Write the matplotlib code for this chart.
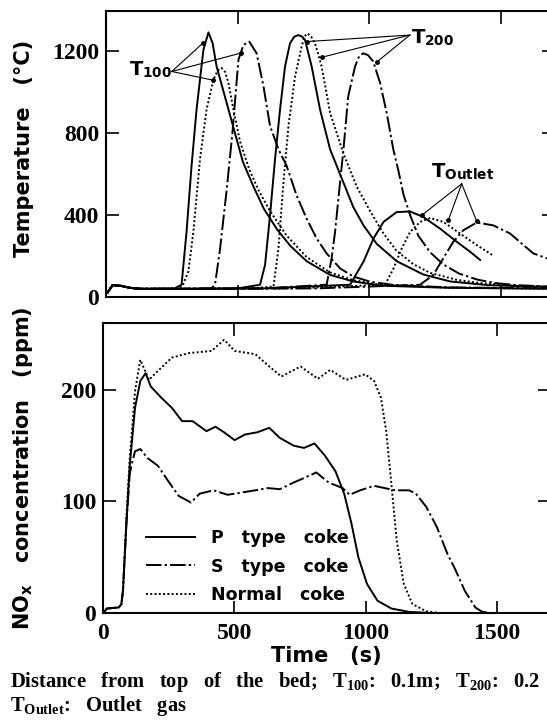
import matplotlib
matplotlib.use("Agg")
import matplotlib.pyplot as plt

plt.rcParams['font.family'] = ['Liberation Serif', 'DejaVu Serif']
plt.rcParams['font.weight'] = 'bold'
plt.rcParams['mathtext.fontset'] = 'custom'
plt.rcParams['mathtext.rm'] = 'Liberation Serif:bold'
plt.rcParams['mathtext.bf'] = 'Liberation Serif:bold'
plt.rcParams['mathtext.it'] = 'Liberation Serif:bold'
plt.rcParams['mathtext.sf'] = 'DejaVu Sans:bold'

# ---- temperature profiles (time s, temperature degC) ----
start_t = [5, 25, 55, 90, 130]
start_T = [20, 58, 55, 45, 40]

p_t100_t = start_t + [200, 260, 287, 306, 325, 344, 370, 389, 405, 420, 458, 490, 520, 560, 600, 650, 700, 762, 851, 939, 1050, 1300, 1700]
p_t100_T = start_T + [40, 42, 60, 320, 642, 917, 1208, 1293, 1240, 1127, 950, 800, 660, 540, 430, 330, 250, 175, 108, 76, 55, 45, 40]

n_t100_t = start_t + [200, 270, 291, 313, 332, 357, 382, 408, 425, 439, 452, 465, 484, 509, 545, 580, 623, 686, 762, 851, 939, 1050, 1300, 1700]
n_t100_T = start_T + [40, 42, 55, 126, 320, 674, 917, 1062, 1108, 1119, 1100, 1046, 917, 760, 620, 520, 420, 300, 195, 120, 82, 58, 46, 40]

s_t100_t = start_t + [200, 300, 400, 414, 433, 458, 480, 503, 522, 544, 572, 598, 623, 655, 686, 724, 762, 800, 838, 889, 939, 1003, 1091, 1300, 1700]
s_t100_T = start_T + [40, 40, 42, 60, 233, 520, 800, 1159, 1232, 1248, 1191, 1030, 836, 722, 641, 496, 383, 286, 213, 140, 100, 75, 59, 47, 42]

p_t200_t = start_t + [300, 500, 585, 604, 623, 642, 661, 680, 699, 715, 731, 745, 756, 781, 813, 851, 889, 939, 978, 1028, 1104, 1205, 1307, 1450, 1700]
p_t200_T = start_T + [40, 42, 60, 156, 399, 674, 916, 1127, 1240, 1272, 1280, 1272, 1256, 1127, 916, 722, 600, 440, 350, 260, 175, 110, 76, 58, 48]

n_t200_t = start_t + [300, 550, 636, 655, 674, 693, 718, 743, 755, 765, 778, 794, 819, 851, 902, 952, 1003, 1054, 1104, 1168, 1231, 1332, 1421, 1550, 1700]
n_t200_T = start_T + [40, 42, 51, 237, 561, 836, 1078, 1224, 1275, 1288, 1275, 1240, 1127, 900, 700, 540, 420, 310, 225, 160, 118, 84, 68, 55, 50]

s_t200_t = start_t + [300, 600, 838, 857, 870, 889, 902, 920, 946, 962, 977, 995, 1015, 1041, 1066, 1091, 1110, 1130, 1155, 1186, 1230, 1280, 1340, 1410, 1480, 1560, 1700]
s_t200_T = start_T + [40, 42, 60, 190, 318, 561, 723, 981, 1127, 1178, 1191, 1182, 1151, 1046, 900, 723, 620, 500, 400, 300, 220, 160, 115, 85, 68, 58, 50]

p_out_t = start_t + [300, 600, 927, 978, 1016, 1054, 1104, 1155, 1205, 1269, 1332, 1383, 1421]
p_out_T = start_T + [40, 42, 60, 173, 286, 367, 415, 418, 391, 334, 270, 221, 181]

n_out_t = start_t + [300, 700, 1060, 1092, 1123, 1155, 1193, 1231, 1281, 1345, 1408, 1471]
n_out_T = start_T + [40, 42, 60, 140, 237, 318, 367, 386, 367, 310, 254, 202]

s_out_t = start_t + [300, 800, 1193, 1243, 1281, 1319, 1357, 1408, 1471, 1535, 1580, 1623, 1675, 1700]
s_out_T = start_T + [40, 42, 60, 108, 189, 270, 326, 364, 350, 310, 260, 213, 189, 180]

# ---- NOx concentration (time s, ppm) ----
p_nox_t = [0, 15, 60, 70, 76, 89, 102, 122, 142, 162, 182, 222, 262, 301, 341, 394, 428, 461, 501, 540, 587, 633, 673, 726, 765, 805, 845, 885, 918, 946, 972, 1005, 1045, 1098, 1165, 1250, 1700]
p_nox_v = [0, 4, 5, 8, 20, 80, 133, 184, 208, 215, 203, 193, 184, 172, 172, 163, 167, 162, 155, 160, 162, 166, 157, 150, 148, 152, 141, 127, 107, 80, 50, 26, 11, 4, 1, 0, 0]

s_nox_t = [0, 15, 60, 70, 76, 89, 102, 109, 122, 142, 169, 209, 249, 288, 335, 368, 421, 474, 527, 580, 627, 673, 726, 765, 812, 859, 912, 939, 979, 1032, 1072, 1112, 1165, 1191, 1231, 1271, 1311, 1337, 1377, 1417, 1444, 1480, 1700]
s_nox_v = [0, 4, 5, 8, 20, 80, 125, 133, 145, 147, 139, 132, 118, 105, 99, 107, 110, 106, 108, 110, 112, 111, 117, 121, 126, 117, 112, 106, 110, 114, 112, 110, 110, 107, 95, 77, 53, 41, 20, 5, 1, 0, 0]

n_nox_t = [0, 15, 60, 70, 76, 89, 102, 122, 142, 175, 209, 262, 328, 414, 461, 501, 580, 633, 679, 752, 818, 865, 925, 998, 1032, 1058, 1078, 1098, 1118, 1145, 1178, 1231, 1280, 1700]
n_nox_v = [0, 4, 5, 8, 20, 85, 139, 199, 227, 209, 217, 229, 233, 235, 245, 235, 232, 221, 212, 221, 210, 218, 209, 214, 208, 193, 163, 115, 65, 26, 8, 1.5, 0, 0]

legend_labels = ['P   type   coke', 'S   type   coke', 'Normal   coke']

temp_ticks = [0, 400, 800, 1200]
nox_ticks = [0, 100, 200]
time_ticks = [0, 500, 1000, 1500]

solid = '-'
dashdot = (0, (8, 1.6, 1.2, 1.6))
dotted = (0, (1, 1.2))
lw = 1.4

W, H = 547, 722
fig = plt.figure(figsize=(W / 100, H / 100), dpi=100)

ax1 = fig.add_axes([106 / W, (H - 297) / H, 447.6 / W, 286.5 / H])
ax2 = fig.add_axes([103 / W, (H - 613) / H, 446.6 / W, 290 / H])

sans = dict(family='DejaVu Sans', weight='bold')

# top panel
for t, T in [(p_t100_t, p_t100_T), (p_t200_t, p_t200_T), (p_out_t, p_out_T)]:
    ax1.plot(t, T, color='black', lw=lw, linestyle=solid)
for t, T in [(s_t100_t, s_t100_T), (s_t200_t, s_t200_T), (s_out_t, s_out_T)]:
    ax1.plot(t, T, color='black', lw=lw, linestyle=dashdot)
for t, T in [(n_t100_t, n_t100_T), (n_t200_t, n_t200_T), (n_out_t, n_out_T)]:
    ax1.plot(t, T, color='black', lw=lw, linestyle=dotted)

ax1.set_xlim(0, 1700)
ax1.set_ylim(0, 1400)
ax1.set_xticks(time_ticks)
ax1.set_yticks(temp_ticks)
ax1.tick_params(labelbottom=False)
ax1.set_ylabel('Temperature   (°C)', fontsize=15, labelpad=0, **sans)
ax1.yaxis.set_label_coords(-0.16, 0.52)


def leader(ax, src, targets):
    for tx, ty in targets:
        ax.plot([src[0], tx], [src[1], ty], color='black', lw=0.8)
        ax.plot([tx], [ty], marker='o', ms=2.5, color='black')


leader(ax1, (250, 1102), [(370, 1243), (512, 1192), (408, 1059)])
ax1.text(252, 1112, r'T$_{\mathsf{100}}$', ha='right', va='center', fontsize=14, **sans)

leader(ax1, (1154, 1280), [(762, 1248), (821, 1172), (1030, 1150)])
ax1.text(1158, 1268, r'T$_{\mathsf{200}}$', ha='left', va='center', fontsize=14, **sans)

leader(ax1, (1351, 553), [(1199, 399), (1300, 375), (1408, 370)])
ax1.text(1236, 612, r'T$_{\mathsf{Outlet}}$', ha='left', va='center', fontsize=14, **sans)

# bottom panel
l1, = ax2.plot(p_nox_t, p_nox_v, color='black', lw=lw, linestyle=solid)
l2, = ax2.plot(s_nox_t, s_nox_v, color='black', lw=lw, linestyle=dashdot)
l3, = ax2.plot(n_nox_t, n_nox_v, color='black', lw=lw, linestyle=dotted)

ax2.set_xlim(0, 1700)
ax2.set_ylim(0, 260)
ax2.set_xticks(time_ticks)
ax2.set_yticks(nox_ticks)
ax2.set_xlabel('Time   (s)', fontsize=15, **sans)
ax2.xaxis.set_label_coords(0.5, -0.115)
ax2.xaxis.label.set_va('top')
ax2.set_ylabel(r'NO$_{\mathsf{x}}$   concentration   (ppm)', fontsize=15, labelpad=0, **sans)
ax2.yaxis.set_label_coords(-0.152, 0.50)

ax2.legend([l1, l2, l3], legend_labels, loc='upper left', bbox_to_anchor=(0.097, 0.288),
           frameon=False, borderpad=0, borderaxespad=0, handlelength=2.8,
           handletextpad=0.92, labelspacing=0.58,
           prop={'family': 'DejaVu Sans', 'weight': 'bold', 'size': 12.5})

for ax in (ax1, ax2):
    ax.tick_params(direction='in', length=9, width=1.2, top=True, right=True,
                   labelsize=17, pad=5)
    for s in ax.spines.values():
        s.set_linewidth(1.5)
ax2.tick_params(axis='x', pad=7)

fig.text(10 / W, 1 - 682 / H,
         r'Distance   from   top   of   the   bed;   T$_{\mathrm{100}}$:   0.1m;   T$_{\mathrm{200}}$:   0.2',
         fontsize=14.8, ha='left', va='center')
fig.text(10 / W, 1 - 706 / H, r'T$_{\mathrm{Outlet}}$:   Outlet   gas',
         fontsize=14.8, ha='left', va='center')

fig.savefig('out.png', dpi=100)
